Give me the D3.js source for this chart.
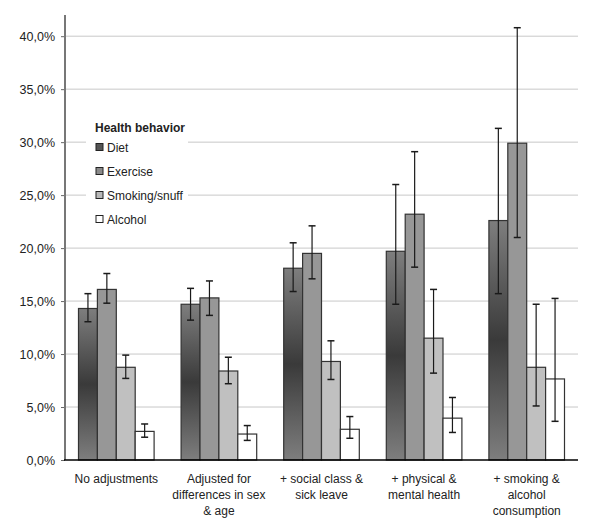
<!DOCTYPE html>
<html><head><meta charset="utf-8">
<script src="https://cdn.jsdelivr.net/npm/d3@7"></script>
<style>body{margin:0;background:#fff}svg{display:block}text{font-family:"Liberation Sans",Arial,sans-serif}</style>
</head><body><svg id="c" width="600" height="526"></svg>
<script>
const categories = ["No adjustments", "Adjusted for\ndifferences in sex\n& age", "+ social class &\nsick leave", "+ physical &\nmental health", "+ smoking &\nalcohol\nconsumption"];
const seriesNames = ["Diet", "Exercise", "Smoking/snuff", "Alcohol"];
const diet = [14.3, 14.7, 18.1, 19.7, 22.6];
const dietLow = [13.05, 13.2, 15.9, 14.7, 15.7];
const dietHigh = [15.7, 16.2, 20.5, 26.0, 31.3];
const exercise = [16.1, 15.3, 19.5, 23.2, 29.9];
const exerciseLow = [14.8, 13.65, 17.1, 18.2, 21.0];
const exerciseHigh = [17.6, 16.9, 22.1, 29.1, 40.8];
const smoking = [8.75, 8.4, 9.3, 11.5, 8.75];
const smokingLow = [7.7, 7.2, 7.6, 8.2, 5.1];
const smokingHigh = [9.9, 9.7, 11.25, 16.1, 14.7];
const alcohol = [2.7, 2.45, 2.9, 3.95, 7.65];
const alcoholLow = [2.15, 1.85, 2.05, 2.6, 3.65];
const alcoholHigh = [3.4, 3.25, 4.1, 5.9, 15.25];
const yTicks = [0, 5, 10, 15, 20, 25, 30, 35, 40];

const values = [diet, exercise, smoking, alcohol];
const lows = [dietLow, exerciseLow, smokingLow, alcoholLow];
const highs = [dietHigh, exerciseHigh, smokingHigh, alcoholHigh];
const fills = ["url(#gDiet)", "#979797", "#c0c0c0", "#ffffff"];
const legendFills = ["#555555", "#8a8a8a", "#b8b8b8", "#ffffff"];

const svg = d3.select("#c");
const defs = svg.append("defs");
const g = defs.append("linearGradient").attr("id", "gDiet").attr("x1", 0).attr("y1", 0).attr("x2", 0).attr("y2", 1);
g.append("stop").attr("offset", "0%").attr("stop-color", "#7e7e7e");
g.append("stop").attr("offset", "50%").attr("stop-color", "#3a3a3a");
g.append("stop").attr("offset", "100%").attr("stop-color", "#7e7e7e");

const L = 65, R = 578, T = 15, B = 460;
const y = d3.scaleLinear().domain([0, 42]).range([B, T]);
const x0 = d3.scaleBand().domain(categories).range([L, R]).padding(0);
const bw = x0.bandwidth();
const x1 = d3.scaleBand().domain(seriesNames).range([13.5, bw - 13.5]).padding(0);

// gridlines
svg.append("g").selectAll("line").data(yTicks.filter(d => d > 0)).join("line")
  .attr("x1", L).attr("x2", R).attr("y1", d => y(d)).attr("y2", d => y(d))
  .attr("stroke", "#c8c8c8").attr("stroke-width", 1);

// y axis
const yAxis = d3.axisLeft(y).tickValues(yTicks).tickSize(4).tickPadding(6)
  .tickFormat(d => d.toFixed(1).replace(".", ",") + "%");
const ya = svg.append("g").attr("transform", `translate(${L},0)`).call(yAxis);
ya.select(".domain").remove();
ya.selectAll(".tick line").attr("stroke", "#666");
ya.selectAll(".tick text").attr("font-size", 12.5).attr("fill", "#222").attr("font-family", "Liberation Sans, Arial, sans-serif");
svg.append("line").attr("x1", L).attr("x2", L).attr("y1", T).attr("y2", B).attr("stroke", "#777").attr("stroke-width", 2);

// bars
const groups = svg.append("g").selectAll("g").data(categories).join("g")
  .attr("transform", d => `translate(${x0(d)},0)`);
groups.each(function(cat, ci) {
  const gg = d3.select(this);
  seriesNames.forEach((s, si) => {
    const v = values[si][ci];
    gg.append("rect").attr("x", x1(s)).attr("width", x1.bandwidth())
      .attr("y", y(v)).attr("height", y(0) - y(v))
      .attr("fill", fills[si]).attr("stroke", "#333").attr("stroke-width", 1.2);
  });
  seriesNames.forEach((s, si) => {
    const cx = x1(s) + x1.bandwidth() / 2;
    const lo = y(lows[si][ci]), hi = y(highs[si][ci]);
    const col = "#1a1a1a";
    gg.append("line").attr("x1", cx).attr("x2", cx).attr("y1", lo).attr("y2", hi).attr("stroke", col).attr("stroke-width", 1.2);
    [lo, hi].forEach(yy => gg.append("line").attr("x1", cx - 3.5).attr("x2", cx + 3.5).attr("y1", yy).attr("y2", yy).attr("stroke", col).attr("stroke-width", 1.5));
  });
});

// x axis line
svg.append("line").attr("x1", L - 1).attr("x2", R).attr("y1", B).attr("y2", B).attr("stroke", "#000").attr("stroke-width", 1.5);

// category labels
const labs = svg.append("g").selectAll("text").data(categories).join("text")
  .attr("text-anchor", "middle").attr("font-size", 12).attr("fill", "#222")
  .attr("transform", d => `translate(${x0(d) + bw / 2},${483})`);
labs.each(function(d) {
  d3.select(this).selectAll("tspan").data(d.split("\n")).join("tspan")
    .attr("x", 0).attr("dy", (t, i) => i === 0 ? 0 : 16).text(t => t);
});

// legend
const lg = svg.append("g");
lg.append("rect").attr("x", 86).attr("y", 118).attr("width", 102).attr("height", 112).attr("fill", "#fff");
lg.append("text").attr("x", 95).attr("y", 132).attr("font-size", 12).attr("font-weight", "bold").attr("fill", "#222").text("Health behavior");
seriesNames.forEach((s, i) => {
  const cy = 147 + i * 24;
  lg.append("rect").attr("x", 96).attr("y", cy - 3.5).attr("width", 7).attr("height", 7)
    .attr("fill", legendFills[i]).attr("stroke", "#222").attr("stroke-width", 1);
  lg.append("text").attr("x", 107).attr("y", cy + 4.5).attr("font-size", 12).attr("fill", "#222").text(s);
});
</script></body></html>
